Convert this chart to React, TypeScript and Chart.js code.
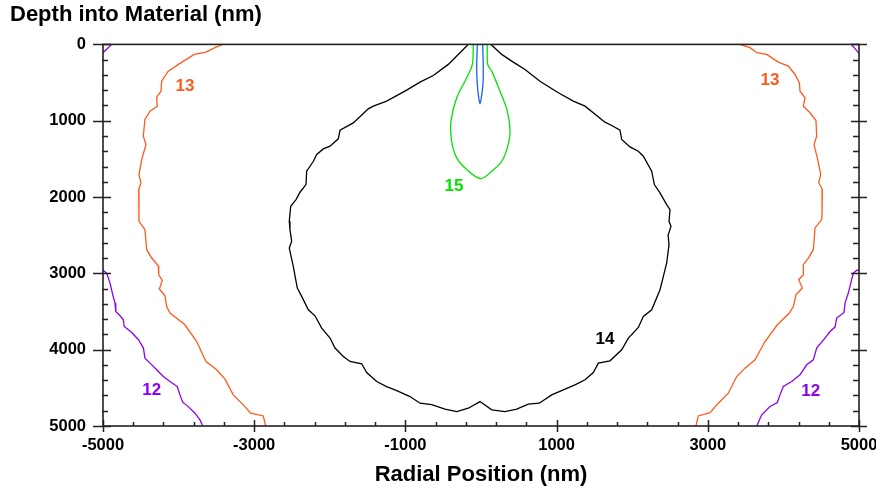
import React, { useEffect, useRef } from 'react';
import { Chart, registerables } from 'chart.js';

Chart.register(...registerables);

const FONT = '"Liberation Sans", Arial, Helvetica, sans-serif';

const ORANGE = '#ff5a1e';
const PURPLE = '#8c00f0';
const GREEN = '#00e400';
const BLUE = '#1f5cff';
const BLACK = '#000000';

// Axis ticks
const xTickValues = [-5000, -3000, -1000, 1000, 3000, 5000];
const yTickValues = [0, 1000, 2000, 3000, 4000, 5000];
const xMinorStep = 400;
const yMinorStep = 200;

// Contour level 13 (left branch)
const c13LeftX = [-3417, -3519, -3638, -3793, -3982, -4137, -4224, -4233, -4290, -4282, -4378, -4445, -4467, -4431, -4488, -4524, -4498, -4528, -4524, -4445, -4422, -4356, -4269, -4263, -4216, -4255, -4180, -4158, -4114, -3916, -3761, -3638, -3496, -3386, -3277, -3144, -3047, -2880, -2848];
const c13LeftY = [0, 43, 101, 131, 249, 350, 482, 613, 691, 810, 875, 984, 1203, 1312, 1509, 1706, 1815, 1902, 2318, 2427, 2690, 2799, 2900, 3018, 3092, 3205, 3293, 3434, 3520, 3674, 3893, 4155, 4264, 4386, 4592, 4723, 4832, 4868, 5000];

// Contour level 13 (right branch)
const c13RightX = [3426, 3558, 3647, 3779, 3933, 4065, 4154, 4211, 4220, 4286, 4264, 4352, 4431, 4440, 4405, 4454, 4494, 4467, 4515, 4511, 4507, 4418, 4396, 4330, 4264, 4264, 4203, 4250, 4167, 4132, 4079, 3920, 3757, 3625, 3492, 3382, 3271, 3139, 3029, 2874, 2844];
const c13RightY = [0, 43, 109, 131, 232, 285, 394, 503, 613, 699, 810, 896, 997, 1203, 1312, 1509, 1706, 1806, 1902, 2208, 2296, 2405, 2690, 2799, 2886, 3018, 3083, 3192, 3280, 3434, 3520, 3674, 3893, 4133, 4242, 4352, 4570, 4701, 4824, 4868, 5000];

// Contour level 12 (four pieces)
const c12LeftTopX = [-5000, -4885];
const c12LeftTopY = [109, 0];
const c12RightTopX = [4900, 5000];
const c12RightTopY = [0, 118];
const c12LeftX = [-5000, -4951, -4907, -4871, -4841, -4831, -4774, -4730, -4720, -4619, -4531, -4465, -4445, -4378, -4290, -4202, -4114, -4017, -3982, -3946, -3872, -3783, -3717, -3681];
const c12LeftY = [2961, 2996, 3127, 3280, 3389, 3499, 3556, 3608, 3696, 3775, 3870, 3979, 4111, 4176, 4264, 4352, 4418, 4483, 4592, 4688, 4746, 4832, 4920, 5000];
const c12RightX = [5000, 4970, 4925, 4891, 4859, 4815, 4802, 4705, 4683, 4617, 4550, 4440, 4396, 4308, 4220, 4110, 3999, 3955, 3920, 3823, 3713, 3647];
const c12RightY = [2952, 2961, 2996, 3127, 3258, 3389, 3512, 3586, 3704, 3762, 3848, 3979, 4133, 4198, 4330, 4418, 4483, 4592, 4693, 4745, 4854, 5000];

// Contour level 14
const c14X = [-168, -255, -433, -631, -807, -983, -1248, -1424, -1491, -1689, -1865, -1888, -1997, -2086, -2173, -2217, -2306, -2315, -2394, -2447, -2517, -2536, -2527, -2504, -2536, -2483, -2430, -2372, -2284, -2196, -2107, -1997, -1931, -1821, -1733, -1578, -1512, -1380, -1248, -1115, -939, -807, -652, -476, -321, -168, -13, 142, 317, 472, 626, 771, 935, 1243, 1376, 1486, 1552, 1706, 1861, 1949, 2081, 2147, 2258, 2368, 2412, 2456, 2487, 2475, 2513, 2487, 2500, 2456, 2368, 2293, 2258, 2147, 2081, 1971, 1861, 1839, 1729, 1640, 1376, 1221, 1023, 780, 582, 406, 274, 132];
const c14Y = [0, 87, 262, 407, 494, 599, 743, 809, 844, 1028, 1124, 1237, 1334, 1369, 1443, 1531, 1662, 1837, 1937, 2034, 2121, 2318, 2427, 2580, 2668, 2909, 3192, 3302, 3477, 3556, 3717, 3848, 3979, 4089, 4155, 4185, 4299, 4418, 4483, 4536, 4614, 4701, 4719, 4780, 4811, 4767, 4680, 4789, 4811, 4780, 4714, 4701, 4592, 4461, 4395, 4299, 4176, 4146, 4002, 3848, 3709, 3565, 3477, 3214, 3040, 2864, 2624, 2500, 2384, 2318, 2165, 2099, 1946, 1837, 1662, 1465, 1399, 1343, 1246, 1124, 1063, 1019, 809, 743, 634, 482, 328, 219, 131, 0];

// Contour level 15
const c15X = [-102, -115, -189, -321, -397, -388, -321, -189, -4, 142, 274, 348, 384, 348, 251, 142, 89, 83];
const c15Y = [0, 262, 437, 699, 1006, 1269, 1487, 1640, 1758, 1662, 1531, 1355, 1138, 875, 613, 350, 262, 0];

// Innermost contour (blue)
const c16X = [-49, -57, -49, -30, -13, 4, 26, 30, 22];
const c16Y = [0, 306, 525, 699, 778, 699, 525, 306, 0];

// Contour labels
const labelTexts = ['13', '13', '12', '12', '14', '15'];
const labelX = [-3916, 3823, -4356, 4361, 1640, -357];
const labelY = [547, 468, 4536, 4549, 3861, 1859];
const labelColors = [ORANGE, ORANGE, PURPLE, PURPLE, BLACK, GREEN];

const pts = (xs: number[], ys: number[]) => xs.map((x, i) => ({ x, y: ys[i] }));

const line = (xs: number[], ys: number[], color: string, tension = 0) => ({
  data: pts(xs, ys),
  borderColor: color,
  borderWidth: 1.3,
  showLine: true,
  pointRadius: 0,
  tension,
  fill: false,
});

const framePlugin = {
  id: 'frameTicks',
  afterDatasetsDraw(chart: any) {
    const { ctx, chartArea: a, scales } = chart;
    const xs = scales.x;
    const ys = scales.y;
    ctx.save();
    ctx.strokeStyle = '#222';
    ctx.lineWidth = 1.5;
    ctx.beginPath();
    for (let v = yTickValues[0]; v <= yTickValues[yTickValues.length - 1]; v += yMinorStep) {
      const p = Math.round(ys.getPixelForValue(v)) + 0.5;
      ctx.moveTo(a.left - 1, p);
      ctx.lineTo(a.left + 5, p);
      ctx.moveTo(a.right - 6, p);
      ctx.lineTo(a.right, p);
    }
    for (const v of yTickValues) {
      const p = Math.round(ys.getPixelForValue(v)) + 0.5;
      ctx.moveTo(a.left - 10, p);
      ctx.lineTo(a.left + 8, p);
      ctx.moveTo(a.right - 8, p);
      ctx.lineTo(a.right + 8, p);
    }
    for (let v = xTickValues[0]; v <= xTickValues[xTickValues.length - 1]; v += xMinorStep) {
      const p = Math.round(xs.getPixelForValue(v)) + 0.5;
      ctx.moveTo(p, a.bottom);
      ctx.lineTo(p, a.bottom - 4);
    }
    for (const v of xTickValues) {
      const p = Math.round(xs.getPixelForValue(v)) + 0.5;
      ctx.moveTo(p, a.bottom - 6);
      ctx.lineTo(p, a.bottom + 6);
    }
    ctx.stroke();
    ctx.lineWidth = 1.6;
    ctx.strokeRect(a.left, a.top, a.right - a.left, a.bottom - a.top);
    ctx.font = `bold 17px ${FONT}`;
    ctx.textAlign = 'center';
    ctx.textBaseline = 'middle';
    labelTexts.forEach((t, i) => {
      ctx.fillStyle = labelColors[i];
      ctx.fillText(t, xs.getPixelForValue(labelX[i]), ys.getPixelForValue(labelY[i]));
    });
    ctx.restore();
  },
};

export default function App() {
  const ref = useRef<HTMLCanvasElement | null>(null);
  useEffect(() => {
    if (!ref.current) return;
    Chart.defaults.font.family = FONT;
    const chart = new Chart(ref.current, {
      type: 'scatter',
      data: {
        datasets: [
          line(c12LeftTopX, c12LeftTopY, PURPLE),
          line(c12RightTopX, c12RightTopY, PURPLE),
          line(c12LeftX, c12LeftY, PURPLE),
          line(c12RightX, c12RightY, PURPLE),
          line(c13LeftX, c13LeftY, ORANGE),
          line(c13RightX, c13RightY, ORANGE),
          line(c14X, c14Y, BLACK),
          line(c15X, c15Y, GREEN, 0.35),
          line(c16X, c16Y, BLUE, 0.3),
        ] as any,
      },
      options: {
        animation: false,
        responsive: true,
        maintainAspectRatio: false,
        layout: { padding: { left: 10, right: 17, top: 0, bottom: 0 } },
        plugins: {
          legend: { display: false },
          tooltip: { enabled: false },
          title: {
            display: true,
            text: 'Depth into Material (nm)',
            align: 'start',
            color: '#000',
            font: { family: FONT, size: 22, weight: 'bold' },
            padding: { top: 2, bottom: 16 },
          },
        },
        scales: {
          x: {
            type: 'linear',
            min: -5000,
            max: 5000,
            grid: { display: false, drawTicks: false },
            border: { display: false },
            afterBuildTicks: (s: any) => {
              s.ticks = xTickValues.map((v) => ({ value: v }));
            },
            ticks: {
              color: '#000',
              font: { family: FONT, size: 16.5, weight: 'bold' },
              padding: 10,
              maxRotation: 0,
              autoSkip: false,
              callback: (v: any) => String(v),
            },
            title: {
              display: true,
              text: 'Radial Position (nm)',
              color: '#000',
              font: { family: FONT, size: 22, weight: 'bold' },
              padding: { top: 0, bottom: 4 },
            },
            afterFit: (s: any) => {
              s.height = 66;
              s.paddingRight = 0;
              s.paddingLeft = 0;
            },
          },
          y: {
            type: 'linear',
            reverse: true,
            min: 0,
            max: 5000,
            grid: { display: false, drawTicks: false },
            border: { display: false },
            afterBuildTicks: (s: any) => {
              s.ticks = yTickValues.map((v) => ({ value: v }));
            },
            ticks: {
              color: '#000',
              font: { family: FONT, size: 16.5, weight: 'bold' },
              padding: 17,
              autoSkip: false,
              callback: (v: any) => String(v),
            },
            afterFit: (s: any) => {
              s.width = 93;
            },
          },
        },
      } as any,
      plugins: [framePlugin],
    });
    return () => chart.destroy();
  }, []);
  return (
    <div style={{ position: 'absolute', left: 0, top: 0, width: 876, height: 492, background: '#fff' }}>
      <canvas ref={ref} />
    </div>
  );
}
